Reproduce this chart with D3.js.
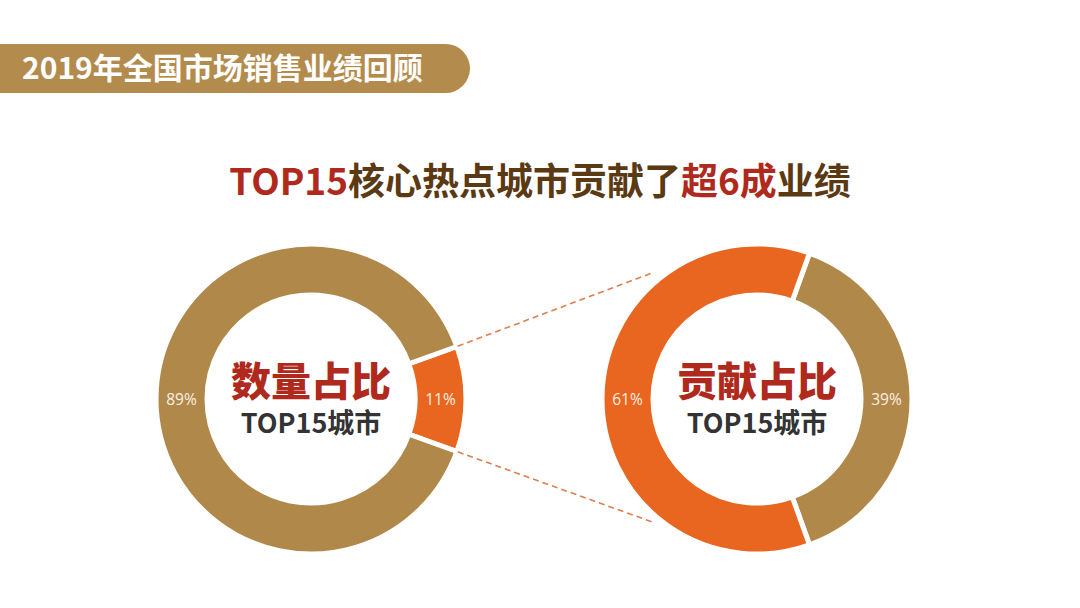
<!DOCTYPE html>
<html><head><meta charset="utf-8">
<script src="https://cdn.jsdelivr.net/npm/d3@7"></script>
<style>body{margin:0;background:#fff;}svg{display:block;}</style>
</head><body>
<svg id="c" width="1080" height="608"></svg>
<script>
const headerText = "2019年全国市场销售业绩回顾";
const titleParts = [["TOP15","#b0291d"],["核心热点城市贡献了","#5b3a13"],["超6成","#b0291d"],["业绩","#5b3a13"]];
const leftCategories = ["TOP15城市","其他城市"];
const leftValues = [11, 89];
const rightCategories = ["TOP15城市","其他城市"];
const rightValues = [61, 39];
const centerTitles = ["数量占比","贡献占比"];
const centerSub = ["TOP15城市","TOP15城市"];

const TAN = "#b0894a", ORANGE = "#e8661f";
const svg = d3.select("#c");
const font = "'Noto Sans CJK SC', 'Noto Sans', sans-serif";

// header banner
const bw = 470, by = 44, bh = 49;
svg.append("path")
  .attr("d", `M0,${by} H${bw - bh/2} A${bh/2},${bh/2} 0 0 1 ${bw - bh/2},${by+bh} H0 Z`)
  .attr("fill", "#b38b4c");
svg.append("text").attr("x", 22).attr("y", by + bh/2).attr("dy", "0.36em")
  .attr("font-family", font).attr("font-weight", 700).attr("font-size", 30)
  .attr("fill", "#fff").text(headerText);

// title
const t = svg.append("text").attr("x", 540).attr("y", 182).attr("dy", "0.36em")
  .attr("text-anchor", "middle").attr("font-family", font).attr("font-weight", 700)
  .attr("font-size", 37);
titleParts.forEach(p => t.append("tspan").attr("fill", p[1]).text(p[0]));

const outerR = 155, innerR = 104;
const arc = d3.arc().innerRadius(innerR).outerRadius(outerR);
const labelArc = d3.arc().innerRadius((innerR+outerR)/2).outerRadius((innerR+outerR)/2);

// focus = index of the slice centred at 3 o'clock
function donut(cx, cy, values, colors, focus, idx) {
  const order = [focus].concat(values.map((v,i)=>i).filter(i => i !== focus));
  const ordered = order.map(i => ({v: values[i], c: colors[i]}));
  const span = values[focus] / d3.sum(values) * 2 * Math.PI;
  const start = Math.PI/2 - span/2;
  const pie = d3.pie().sort(null).value(d => d.v)
    .startAngle(start).endAngle(start + 2*Math.PI);
  const arcs = pie(ordered);
  const g = svg.append("g").attr("transform", `translate(${cx},${cy})`);
  g.selectAll("path").data(arcs).join("path")
    .attr("d", arc).attr("fill", d => d.data.c)
    .attr("stroke", "#fff").attr("stroke-width", 5);
  g.selectAll("text.pct").data(arcs).join("text").attr("class","pct")
    .attr("transform", d => `translate(${labelArc.centroid(d)})`)
    .attr("text-anchor", "middle").attr("dy", "0.36em")
    .attr("font-family", "'Open Sans', 'Noto Sans', sans-serif").attr("font-weight", 400)
    .attr("font-size", 15.5).attr("fill", "#fcefe2")
    .text(d => d.data.v + "%");
  g.append("text").attr("y", -17).attr("dy", "0.36em").attr("text-anchor", "middle")
    .attr("font-family", font).attr("font-weight", 900).attr("font-size", 40)
    .attr("fill", "#b0291d").text(centerTitles[idx]);
  g.append("text").attr("y", 24).attr("dy", "0.36em").attr("text-anchor", "middle")
    .attr("font-family", font).attr("font-weight", 700).attr("font-size", 27)
    .attr("fill", "#333").text(centerSub[idx]);
}

const L = {x: 311, y: 399}, R = {x: 757, y: 399};
donut(L.x, L.y, leftValues, [ORANGE, TAN], 0, 0);
donut(R.x, R.y, rightValues, [ORANGE, TAN], 1, 1);

// dashed connector lines
const half = leftValues[0] / d3.sum(leftValues) * Math.PI;
const p = a => [L.x + (outerR+1)*Math.sin(a), L.y - (outerR+1)*Math.cos(a)];
const lines = [[p(Math.PI/2 - half), [652, 273]], [p(Math.PI/2 + half), [655, 523]]];
svg.selectAll("line.conn").data(lines).join("line").attr("class","conn")
  .attr("x1", d => d[0][0]).attr("y1", d => d[0][1])
  .attr("x2", d => d[1][0]).attr("y2", d => d[1][1])
  .attr("stroke", "#dd7f50").attr("stroke-width", 1.6).attr("stroke-dasharray", "6,4");
</script>
</body></html>
